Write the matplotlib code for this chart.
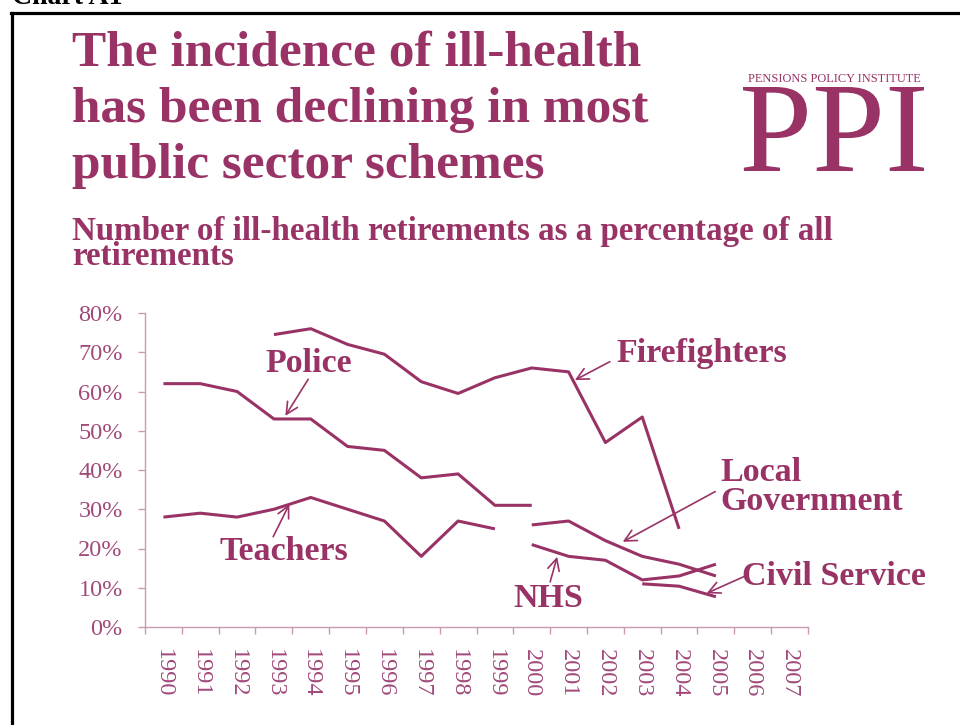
import numpy as np
import matplotlib
matplotlib.use("Agg")
from matplotlib import pyplot as plt
from matplotlib.lines import Line2D
from matplotlib.patches import PathPatch
from matplotlib.textpath import TextPath
from matplotlib.font_manager import FontProperties
from matplotlib.transforms import Affine2D

#%% Data

nan = np.nan
years = [str(y) for y in range(1990, 2008)]

police = [62, 62, 60, 53, 53, 46, 45, 38, 39, 31, 31, nan, nan, nan, nan, nan, nan, nan]
firefighters = [nan, nan, nan, 74.5, 76, 72, 69.5, 62.5, 59.5, 63.5, 66, 65, 47, 53.5, 25, nan, nan, nan]
teachers = [28, 29, 28, 30, 33, 30, 27, 18, 27, 25, nan, nan, nan, nan, nan, nan, nan, nan]
local_gov = [nan] * 10 + [26, 27, 22, 18, 16, 13, nan, nan]
nhs = [nan] * 10 + [21, 18, 17, 12, 13, 16, nan, nan]
civil_service = [nan] * 13 + [11, 10.4, 7.7, nan, nan]

yticks = [0, 10, 20, 30, 40, 50, 60, 70, 80]

#%% Style

PURPLE = "#993366"
TICKCOL = "#a04a7a"
SPINECOL = "#c89bb3"
SERIF = "Liberation Serif"

W, H = 960, 725
fig = plt.figure(figsize=(W / 100, H / 100), dpi=100)
fig.patch.set_facecolor("white")


def fx(px):
    return px / W


def fy(py):
    return 1 - py / H


#%% Frame and header

fig.add_artist(Line2D([fx(12), fx(12)], [fy(13), fy(725)], color="black", lw=2.3))
fig.add_artist(Line2D([fx(11), fx(960)], [fy(13), fy(13)], color="black", lw=2.3))
fig.text(fx(12), fy(4), "Chart A1", family=SERIF, weight="bold", fontsize=20,
         color="black", va="baseline")

title_lines = ["The incidence of ill-health", "has been declining in most", "public sector schemes"]
for line, base in zip(title_lines, [65, 122, 178]):
    fig.text(fx(72), fy(base), line, family=SERIF, weight="bold", fontsize=37,
             color=PURPLE, va="baseline")

subtitle_lines = ["Number of ill-health retirements as a percentage of all", "retirements"]
for line, base in zip(subtitle_lines, [240, 265]):
    fig.text(fx(72), fy(base), line, family=SERIF, weight="bold", fontsize=23.8,
             color=PURPLE, va="baseline")

# logo
fig.text(fx(834), fy(81.5), "PENSIONS POLICY INSTITUTE", family=SERIF, fontsize=8.9,
         color=PURPLE, ha="center", va="baseline")
tp = TextPath((0, 0), "PPI", size=100, prop=FontProperties(family=SERIF))
bb = tp.get_extents()
tr = (Affine2D().translate(-bb.x0, -bb.y0)
      .scale(181 / bb.width, 84 / bb.height)
      .translate(743, H - 171)
      .scale(1 / W, 1 / H)) + fig.transFigure
fig.add_artist(PathPatch(tp, transform=tr, facecolor=PURPLE, edgecolor="none"))

#%% Chart

ax = fig.add_axes([fx(145), fy(627), fx(808) - fx(145), fy(313) - fy(627)])
x = np.arange(len(years))
for series in [police, firefighters, teachers, local_gov, nhs, civil_service]:
    ax.plot(x, series, color=PURPLE, lw=2.2, solid_capstyle="butt")

ax.set_xlim(-0.5, len(years) - 0.5)
ax.set_ylim(0, 80)
for s in ["top", "right"]:
    ax.spines[s].set_visible(False)
for s in ["left", "bottom"]:
    ax.spines[s].set_color(SPINECOL)
    ax.spines[s].set_linewidth(1.0)

ax.set_yticks(yticks)
ax.set_yticklabels([f"{v}%" for v in yticks], family=SERIF, fontsize=17.5, color=TICKCOL)
ax.tick_params(axis="y", length=5, width=1, color=SPINECOL, pad=11)

ax.set_xticks(x)
ax.set_xticklabels(years, family=SERIF, fontsize=17.5, color=TICKCOL, rotation=270)
ax.set_xticks(np.arange(-0.5, len(years)), minor=True)
ax.tick_params(axis="x", which="major", length=0, pad=16)
ax.tick_params(axis="x", which="minor", length=5, width=1, color=SPINECOL)

#%% Labels and arrows

labels = [
    ("Police", 3.95, 65.0, "center"),
    ("Teachers", 3.26, 17.1, "center"),
    ("Firefighters", 12.31, 67.6, "left"),
    ("Local", 15.11, 37.1, "left"),
    ("Government", 15.11, 29.8, "left"),
    ("Civil Service", 15.71, 10.7, "left"),
    ("NHS", 10.44, 5.2, "center"),
]
for txt, tx, ty, ha in labels:
    ax.text(tx, ty, txt, family=SERIF, weight="bold", fontsize=24.5, color=PURPLE,
            ha=ha, va="baseline", clip_on=False)

arrows = [
    ((3.93, 63.1), (3.31, 53.8)),
    ((2.98, 23.0), (3.42, 31.3)),
    ((12.12, 67.6), (11.17, 62.9)),
    ((14.98, 34.5), (12.47, 21.7)),
    ((15.80, 13.0), (14.75, 8.6)),
    ((10.50, 11.5), (10.69, 17.9)),
]
for start, tip in arrows:
    ax.annotate("", xy=tip, xytext=start, annotation_clip=False,
                arrowprops=dict(arrowstyle="->,head_length=0.7,head_width=0.35",
                                color=PURPLE, lw=1.2, shrinkA=0, shrinkB=0,
                                mutation_scale=12))

fig.savefig("out.png", dpi=100)
